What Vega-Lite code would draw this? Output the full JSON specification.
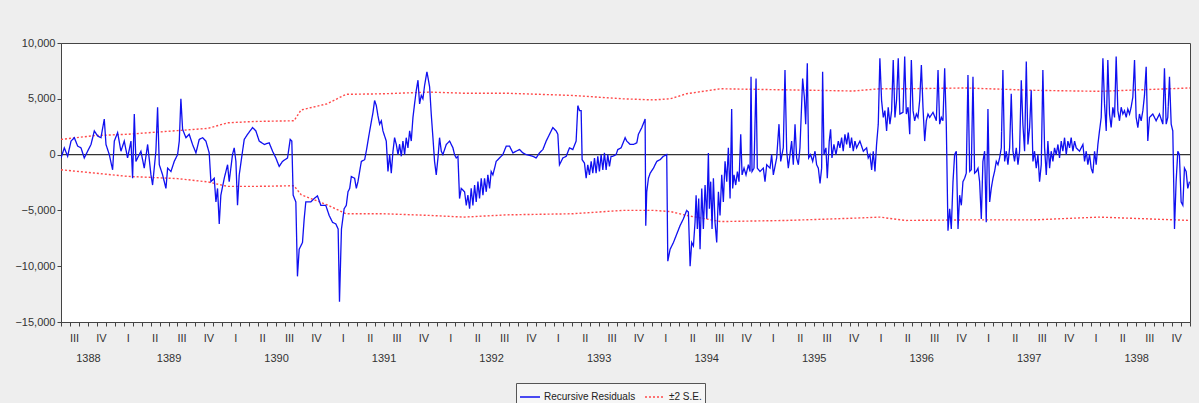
{
"$schema":"https://vega.github.io/schema/vega-lite/v6.json",
"width":1129,"height":279,
"autosize":"none",
"padding":{"left":61,"top":43,"right":9,"bottom":81},
"background":"#eeeeee",
"config":{"view":{"fill":"white","stroke":"#444","strokeWidth":1},"font":"Liberation Sans","axis":{"grid":false,"labelFont":"Liberation Sans","labelFontSize":11,"labelColor":"#333","domainColor":"#444","tickColor":"#444"}},
"datasets":{
"res":[
{"t":0.00,"v":-303},{"t":0.37,"v":606},{"t":0.74,"v":-152},{"t":1.12,"v":1212},{"t":1.49,"v":1515},{"t":1.86,"v":758},{"t":2.23,"v":606},{"t":2.60,"v":-303},{"t":2.97,"v":303},{"t":3.35,"v":909},{"t":3.72,"v":2121},{"t":4.09,"v":1667},{"t":4.46,"v":1515},{"t":4.83,"v":3182},{"t":5.02,"v":909},{"t":5.39,"v":0},{"t":5.76,"v":-1364},{"t":5.95,"v":1212},{"t":6.32,"v":1970},{"t":6.69,"v":303},{"t":7.06,"v":1212},{"t":7.43,"v":-303},{"t":7.81,"v":1212},{"t":7.99,"v":-2121},{"t":8.18,"v":3636},{"t":8.36,"v":-606},{"t":8.92,"v":303},{"t":9.29,"v":-1212},{"t":9.67,"v":909},{"t":10.04,"v":-1818},{"t":10.22,"v":-2727},{"t":10.59,"v":303},{"t":10.78,"v":4242},{"t":10.97,"v":-909},{"t":11.34,"v":-1818},{"t":11.71,"v":-3030},{"t":11.90,"v":-1212},{"t":12.27,"v":-1515},{"t":12.64,"v":-606},{"t":13.01,"v":0},{"t":13.20,"v":1212},{"t":13.38,"v":5000},{"t":13.57,"v":2273},{"t":13.94,"v":1515},{"t":14.31,"v":1818},{"t":14.68,"v":909},{"t":15.06,"v":152},{"t":15.43,"v":1364},{"t":15.80,"v":1515},{"t":16.17,"v":1212},{"t":16.54,"v":152},{"t":16.73,"v":-2424},{"t":17.10,"v":-2121},{"t":17.29,"v":-4242},{"t":17.47,"v":-3030},{"t":17.66,"v":-6212},{"t":17.84,"v":-3636},{"t":18.22,"v":-2121},{"t":18.59,"v":-909},{"t":18.77,"v":-2424},{"t":19.14,"v":0},{"t":19.33,"v":606},{"t":19.52,"v":-606},{"t":19.70,"v":-4545},{"t":19.89,"v":-1818},{"t":20.26,"v":303},{"t":20.45,"v":1364},{"t":20.82,"v":1818},{"t":21.38,"v":2424},{"t":21.75,"v":2121},{"t":22.12,"v":1212},{"t":22.68,"v":909},{"t":23.23,"v":1061},{"t":23.61,"v":303},{"t":23.98,"v":-303},{"t":24.35,"v":-1061},{"t":24.72,"v":-606},{"t":25.28,"v":-303},{"t":25.58,"v":1364},{"t":25.76,"v":1212},{"t":25.91,"v":-3636},{"t":26.21,"v":-4242},{"t":26.39,"v":-10909},{"t":26.58,"v":-8485},{"t":26.95,"v":-7879},{"t":27.14,"v":-5758},{"t":27.32,"v":-4242},{"t":27.51,"v":-4242},{"t":27.88,"v":-4242},{"t":28.25,"v":-3939},{"t":28.62,"v":-3697},{"t":29.00,"v":-4545},{"t":29.55,"v":-4545},{"t":29.93,"v":-5455},{"t":30.30,"v":-6061},{"t":30.67,"v":-6212},{"t":30.93,"v":-6667},{"t":31.08,"v":-13182},{"t":31.30,"v":-6667},{"t":31.60,"v":-4848},
{"t":31.84,"v":-4545},{"t":32.03,"v":-3333},{"t":32.22,"v":-3030},{"t":32.40,"v":-1970},{"t":32.77,"v":-2121},{"t":32.96,"v":-3030},{"t":33.14,"v":-2424},{"t":33.52,"v":-606},{"t":33.89,"v":-455},{"t":34.07,"v":303},{"t":34.45,"v":2121},{"t":34.82,"v":3788},{"t":35.00,"v":4848},{"t":35.19,"v":4394},{"t":35.37,"v":3485},{"t":35.56,"v":2727},{"t":35.75,"v":3030},{"t":35.93,"v":2121},{"t":36.30,"v":1212},{"t":36.49,"v":-1515},{"t":36.68,"v":0},{"t":36.86,"v":-1667},{"t":37.05,"v":303},{"t":37.23,"v":1515},{"t":37.42,"v":909},{"t":37.61,"v":0},{"t":37.79,"v":909},{"t":37.98,"v":-152},{"t":38.16,"v":1212},{"t":38.35,"v":0},{"t":38.53,"v":1515},{"t":38.72,"v":606},{"t":38.91,"v":2121},{"t":39.09,"v":1212},{"t":39.28,"v":3333},{"t":39.46,"v":4545},{"t":39.65,"v":5758},{"t":39.84,"v":6667},{"t":40.02,"v":4545},{"t":40.21,"v":5303},{"t":40.39,"v":5000},{"t":40.58,"v":6212},{"t":40.84,"v":7424},{"t":41.14,"v":6061},{"t":41.32,"v":3636},{"t":41.51,"v":1515},{"t":41.69,"v":-606},{"t":41.88,"v":-1818},{"t":42.07,"v":-303},{"t":42.25,"v":1515},{"t":42.44,"v":303},{"t":42.62,"v":0},{"t":43.00,"v":909},{"t":43.37,"v":1212},{"t":43.74,"v":606},{"t":43.92,"v":0},{"t":44.11,"v":-303},{"t":44.30,"v":-152},{"t":44.48,"v":-3939},{"t":44.67,"v":-3030},{"t":45.04,"v":-3333},{"t":45.23,"v":-4545},{"t":45.41,"v":-3636},{"t":45.60,"v":-4848},{"t":45.78,"v":-3030},{"t":45.97,"v":-4545},{"t":46.16,"v":-2727},{"t":46.34,"v":-4242},{"t":46.53,"v":-2424},{"t":46.71,"v":-3939},{"t":46.90,"v":-2121},{"t":47.09,"v":-3636},{"t":47.27,"v":-2121},{"t":47.46,"v":-3333},{"t":47.64,"v":-1818},{"t":47.83,"v":-3030},{"t":48.01,"v":-1515},{"t":48.20,"v":-1818},{"t":48.39,"v":-1212},{"t":48.57,"v":-606},{"t":48.94,"v":-303},{"t":49.31,"v":0},{"t":49.69,"v":758},{"t":50.06,"v":758},{"t":50.43,"v":152},{"t":50.80,"v":303},{"t":51.17,"v":455},{"t":51.55,"v":152},{"t":51.92,"v":0},{"t":52.29,"v":-61},{"t":52.66,"v":-152},{"t":53.03,"v":-303},{"t":53.40,"v":152},{"t":53.78,"v":455},{"t":54.15,"v":1212},{"t":54.52,"v":1818},{"t":54.89,"v":2424},{"t":55.26,"v":2121},{"t":55.45,"v":1818},{"t":55.63,"v":-909},{"t":56.01,"v":-303},{"t":56.38,"v":-152},{"t":56.75,"v":606},{"t":57.12,"v":455},{"t":57.49,"v":1212},{"t":57.68,"v":4394},{"t":57.87,"v":3939},{"t":58.05,"v":3939},{"t":58.16,"v":-455},{"t":58.42,"v":-758},{"t":58.61,"v":-2121},{"t":58.79,"v":-909},{"t":58.98,"v":-1818},{"t":59.17,"v":-606},{"t":59.35,"v":-1667},{"t":59.54,"v":-303},{"t":59.72,"v":-1667},{"t":59.91,"v":-152},{"t":60.09,"v":-1515},{"t":60.28,"v":0},{"t":60.47,"v":-1364},{"t":60.65,"v":152},{"t":60.84,"v":-1364},{"t":61.02,"v":0},{"t":61.21,"v":-1061},{"t":61.39,"v":-152},{"t":61.58,"v":-152},{"t":61.95,"v":0},{"t":62.14,"v":455},{"t":62.51,"v":606},
{"t":62.96,"v":1515},{"t":63.14,"v":1212},{"t":63.52,"v":909},{"t":63.89,"v":909},{"t":64.26,"v":1061},{"t":64.44,"v":1818},{"t":64.82,"v":2424},{"t":65.19,"v":3182},{"t":65.26,"v":-6364},{"t":65.37,"v":-3333},{"t":65.56,"v":-2121},{"t":65.75,"v":-1667},{"t":66.12,"v":-1212},{"t":66.49,"v":-606},{"t":66.86,"v":-455},{"t":67.23,"v":-152},{"t":67.60,"v":0},{"t":67.72,"v":-9545},{"t":67.98,"v":-8485},{"t":68.35,"v":-7879},{"t":68.72,"v":-7121},{"t":69.09,"v":-6364},{"t":69.46,"v":-5758},{"t":69.83,"v":-5000},{"t":70.02,"v":-5152},{"t":70.21,"v":-10000},{"t":70.39,"v":-7879},{"t":70.58,"v":-8182},{"t":70.76,"v":-6061},{"t":70.88,"v":-3636},{"t":71.02,"v":-6667},{"t":71.17,"v":-3939},{"t":71.32,"v":-8485},{"t":71.51,"v":-3030},{"t":71.69,"v":-6667},{"t":71.88,"v":-2727},{"t":72.07,"v":-5758},{"t":72.25,"v":152},{"t":72.36,"v":-4848},{"t":72.51,"v":-2424},{"t":72.66,"v":-6667},{"t":72.81,"v":-2121},{"t":72.99,"v":-6061},{"t":73.18,"v":-7879},{"t":73.37,"v":-3333},{"t":73.55,"v":-5455},{"t":73.74,"v":-1818},{"t":73.92,"v":-4242},{"t":74.11,"v":-606},{"t":74.30,"v":-2424},{"t":74.48,"v":606},{"t":74.67,"v":-3939},{"t":74.85,"v":4091},{"t":74.96,"v":-3030},{"t":75.11,"v":-1818},{"t":75.30,"v":-2727},{"t":75.49,"v":-1515},{"t":75.67,"v":-2424},{"t":75.86,"v":1818},{"t":76.01,"v":-1818},{"t":76.23,"v":-1212},{"t":76.45,"v":-1818},{"t":76.71,"v":-909},{"t":76.90,"v":-1515},{"t":77.01,"v":6970},{"t":77.12,"v":-1515},{"t":77.34,"v":-1212},{"t":77.57,"v":6818},{"t":77.71,"v":-1212},{"t":78.01,"v":-1515},{"t":78.38,"v":-1212},{"t":78.57,"v":-2424},{"t":78.76,"v":-909},{"t":79.13,"v":-1212},{"t":79.31,"v":0},{"t":79.50,"v":-1818},{"t":79.87,"v":-303},{"t":80.13,"v":2727},{"t":80.32,"v":-606},{"t":80.61,"v":606},{"t":80.80,"v":7576},{"t":80.99,"v":303},{"t":81.17,"v":-1212},{"t":81.36,"v":0},{"t":81.54,"v":1212},{"t":81.73,"v":-909},{"t":81.92,"v":2727},{"t":82.10,"v":-303},{"t":82.29,"v":-909},{"t":82.47,"v":606},{"t":82.77,"v":6818},{"t":82.96,"v":5152},{"t":83.11,"v":2727},{"t":83.29,"v":8182},{"t":83.44,"v":-303},{"t":83.66,"v":0},{"t":83.89,"v":-606},{"t":84.15,"v":303},{"t":84.33,"v":-909},{"t":84.52,"v":-1212},{"t":84.71,"v":-2576},{"t":84.89,"v":-1212},{"t":85.00,"v":7424},{"t":85.15,"v":0},{"t":85.37,"v":606},{"t":85.52,"v":-2121},{"t":85.74,"v":1212},{"t":85.89,"v":2273},{"t":86.04,"v":-303},{"t":86.26,"v":909},{"t":86.49,"v":0},{"t":86.75,"v":1212},{"t":86.93,"v":606},{"t":87.12,"v":1515},{"t":87.30,"v":303},{"t":87.49,"v":1818},{"t":87.68,"v":909},{"t":87.86,"v":1970},{"t":88.05,"v":606},{"t":88.23,"v":1515},{"t":88.42,"v":303},{"t":88.61,"v":1212},{"t":88.79,"v":606},{"t":89.16,"v":1212},{"t":89.54,"v":303},{"t":89.91,"v":606},{"t":90.09,"v":-303},{"t":90.28,"v":0},{"t":90.47,"v":-1364},{"t":90.65,"v":303},{"t":90.84,"v":-1515},{"t":91.02,"v":909},{"t":91.21,"v":2727},{"t":91.39,"v":8636},{"t":91.58,"v":4848},{"t":91.77,"v":3333},{"t":91.95,"v":3939},{"t":92.14,"v":2121},{"t":92.32,"v":4242},{"t":92.51,"v":2727},{"t":92.70,"v":3939},{"t":92.88,"v":8485},{"t":93.07,"v":3333},{"t":93.25,"v":4848},{"t":93.44,"v":8636},{"t":93.62,"v":3636},
{"t":93.97,"v":3788},{"t":94.16,"v":8788},{"t":94.34,"v":3636},{"t":94.53,"v":4242},{"t":94.72,"v":1818},{"t":94.90,"v":8485},{"t":95.09,"v":3939},{"t":95.27,"v":3030},{"t":95.46,"v":3636},{"t":95.64,"v":3333},{"t":95.83,"v":4848},{"t":96.02,"v":8030},{"t":96.20,"v":4242},{"t":96.39,"v":1212},{"t":96.57,"v":3030},{"t":96.76,"v":3636},{"t":96.95,"v":3333},{"t":97.32,"v":3788},{"t":97.69,"v":3030},{"t":97.88,"v":7576},{"t":98.06,"v":2727},{"t":98.25,"v":3333},{"t":98.43,"v":3030},{"t":98.62,"v":7727},{"t":98.80,"v":2727},{"t":98.99,"v":-6818},{"t":99.18,"v":-4848},{"t":99.36,"v":-6667},{"t":99.55,"v":-2424},{"t":99.73,"v":0},{"t":99.92,"v":303},{"t":100.11,"v":-6667},{"t":100.29,"v":-3636},{"t":100.48,"v":-4545},{"t":100.66,"v":-2424},{"t":100.85,"v":-2121},{"t":101.03,"v":-1667},{"t":101.22,"v":7121},{"t":101.41,"v":-1515},{"t":101.59,"v":-1364},{"t":101.78,"v":6970},{"t":101.96,"v":-1667},{"t":102.15,"v":-1515},{"t":102.34,"v":-1212},{"t":102.52,"v":-2424},{"t":102.71,"v":-5758},{"t":102.89,"v":-606},{"t":103.08,"v":303},{"t":103.26,"v":-6061},{"t":103.45,"v":4091},{"t":103.64,"v":-4242},{"t":103.82,"v":-3030},{"t":104.01,"v":-2121},{"t":104.19,"v":-1515},{"t":104.38,"v":-606},{"t":104.57,"v":-909},{"t":104.75,"v":-303},{"t":104.94,"v":606},{"t":105.12,"v":7576},{"t":105.31,"v":-606},{"t":105.50,"v":303},{"t":105.68,"v":-909},{"t":105.87,"v":606},{"t":106.05,"v":5455},{"t":106.24,"v":303},{"t":106.42,"v":-606},{"t":106.61,"v":606},{"t":106.80,"v":-909},{"t":106.98,"v":303},{"t":107.17,"v":6667},{"t":107.35,"v":2727},{"t":107.54,"v":303},{"t":107.73,"v":8333},{"t":107.91,"v":909},{"t":108.10,"v":2424},{"t":108.28,"v":5758},{"t":108.47,"v":-606},{"t":108.65,"v":303},{"t":108.84,"v":-1212},{"t":109.03,"v":0},{"t":109.21,"v":-2424},{"t":109.40,"v":-909},{"t":109.58,"v":7576},{"t":109.77,"v":606},{"t":109.96,"v":-1818},{"t":110.14,"v":1212},{"t":110.33,"v":-1212},{"t":110.51,"v":303},{"t":110.70,"v":-606},{"t":110.88,"v":606},{"t":111.07,"v":0},{"t":111.26,"v":909},{"t":111.44,"v":-303},{"t":111.63,"v":1212},{"t":111.81,"v":303},{"t":112.00,"v":1515},{"t":112.19,"v":0},{"t":112.37,"v":1212},{"t":112.56,"v":606},{"t":112.74,"v":1515},{"t":112.93,"v":303},{"t":113.12,"v":1212},{"t":113.30,"v":606},{"t":113.67,"v":303},{"t":114.05,"v":909},{"t":114.23,"v":-606},{"t":114.42,"v":303},{"t":114.60,"v":-909},{"t":114.79,"v":0},{"t":114.97,"v":-1212},{"t":115.16,"v":-1667},{"t":115.35,"v":303},{"t":115.53,"v":-909},{"t":115.72,"v":909},{"t":115.90,"v":2121},{"t":116.09,"v":3333},{"t":116.28,"v":8636},{"t":116.46,"v":4545},{"t":116.65,"v":2121},{"t":116.83,"v":8485},{"t":117.02,"v":3636},{"t":117.20,"v":2424},{"t":117.39,"v":4242},{"t":117.58,"v":3333},{"t":117.76,"v":8788},{"t":117.95,"v":3939},{"t":118.13,"v":3030},{"t":118.32,"v":4242},{"t":118.51,"v":3636},{"t":118.69,"v":3939},{"t":118.88,"v":3333},{"t":119.06,"v":4091},{"t":119.25,"v":3636},{"t":119.43,"v":4242},{"t":119.62,"v":5152},{"t":119.81,"v":8485},{"t":119.99,"v":3333},{"t":120.18,"v":2424},{"t":120.36,"v":3636},{"t":120.55,"v":3030},{"t":120.74,"v":3939},{"t":120.92,"v":5303},{"t":121.11,"v":7879},{"t":121.29,"v":1212},{"t":121.48,"v":3333},{"t":121.85,"v":3636},{"t":122.22,"v":3030},{"t":122.59,"v":3636},{"t":122.97,"v":2727},{"t":123.15,"v":7727},{"t":123.34,"v":2727},{"t":123.52,"v":3333},{"t":123.71,"v":6970},{"t":123.90,"v":2727},{"t":124.08,"v":2121},{"t":124.27,"v":-6667},{"t":124.45,"v":-2424},{"t":124.64,"v":303},{"t":124.82,"v":0},{"t":125.01,"v":-4242},{"t":125.20,"v":-4545},{"t":125.38,"v":-1212},{"t":125.57,"v":-1515},{"t":125.75,"v":-3030},{"t":125.94,"v":-2424}
],
"se":[
{"t":0,"u":1360,"l":-1360},{"t":3.7,"u":1700,"l":-1650},{"t":7.4,"u":1820,"l":-1950},{"t":13.0,"u":2150,"l":-2150},{"t":16.4,"u":2350,"l":-2450},{"t":18.6,"u":2850,"l":-2850},{"t":21.6,"u":2970,"l":-2850},{"t":26.0,"u":3030,"l":-2790},{"t":26.8,"u":4000,"l":-3600},{"t":29.7,"u":4550,"l":-4500},{"t":31.8,"u":5400,"l":-5300},{"t":36,"u":5450,"l":-5300},{"t":41.1,"u":5600,"l":-5450},{"t":45,"u":5500,"l":-5600},{"t":49.7,"u":5500,"l":-5400},{"t":57.1,"u":5300,"l":-5300},{"t":62.7,"u":5000,"l":-5000},{"t":66.1,"u":4900,"l":-5000},{"t":68.0,"u":5000,"l":-5100},{"t":69.8,"u":5450,"l":-5450},{"t":73.6,"u":5900,"l":-6000},{"t":81.0,"u":5800,"l":-5900},{"t":88.4,"u":5700,"l":-5700},{"t":91.4,"u":5900,"l":-5600},{"t":94.2,"u":5900,"l":-5900},{"t":101.0,"u":5970,"l":-5850},{"t":108.5,"u":5760,"l":-5850},{"t":115.9,"u":5670,"l":-5600},{"t":126,"u":5970,"l":-5900}
]
},
"resolve":{"axis":{"x":"independent"}},
"layer":[
{"data":{"values":[{"z":0}]},"mark":{"type":"rule","color":"#333","strokeWidth":1.3},"encoding":{"y":{"field":"z","type":"quantitative","axis":{"title":null,"labelExpr":"format(datum.value, ',')"}}}},
{"data":{"name":"se"},"mark":{"type":"line","strokeWidth":1.4,"clip":true},
 "encoding":{"x":{"field":"t","type":"quantitative","axis":null},"y":{"field":"u","type":"quantitative","axis":{"title":null,"labelExpr":"format(datum.value, ',')"}},
 "color":{"datum":"±2 S.E."},"strokeDash":{"datum":"±2 S.E."}}},
{"data":{"name":"se"},"mark":{"type":"line","strokeWidth":1.4,"clip":true},
 "encoding":{"x":{"field":"t","type":"quantitative","axis":null},"y":{"field":"l","type":"quantitative","axis":{"title":null,"labelExpr":"format(datum.value, ',')"}},
 "color":{"datum":"±2 S.E."},"strokeDash":{"datum":"±2 S.E."}}},
{"data":{"name":"res"},"mark":{"type":"line","strokeWidth":1.3,"clip":true},
 "encoding":{
  "x":{"field":"t","type":"quantitative","scale":{"domain":[0,126],"nice":false,"zero":false},
   "axis":{"title":null,"orient":"bottom","tickCount":126,"tickSize":4,"labelPadding":6,"labelOffset":13,"labelOverlap":false,"labelFlush":false,"labelBound":false,
    "labelExpr":"(datum.value % 3 == 0 && datum.value < 126) ? ['III','IV','I','II'][(datum.value/3) % 4] : ''"}},
  "y":{"field":"v","type":"quantitative","scale":{"domain":[-15000,10000],"nice":false},
   "axis":{"title":null,"values":[-15000,-10000,-5000,0,5000,10000],"labelExpr":"format(datum.value, ',')","tickSize":4,"labelPadding":2}},
  "color":{"datum":"Recursive Residuals","scale":{"domain":["Recursive Residuals","±2 S.E."],"range":["#1010f0","#ff4a4a"]},
   "legend":{"title":null,"orient":"none","legendX":455,"legendY":340,"direction":"horizontal","strokeColor":"#555","fillColor":"#f6f6f6","padding":3,"symbolType":"stroke","symbolSize":400,"symbolStrokeWidth":1.4,"labelFontSize":10,"labelColor":"#222","columnPadding":6,"labelOffset":3}},
  "strokeDash":{"datum":"Recursive Residuals","scale":{"domain":["Recursive Residuals","±2 S.E."],"range":[[1,0],[2,2]]},
   "legend":{"title":null,"orient":"none","legendX":455,"legendY":340,"direction":"horizontal","strokeColor":"#555","fillColor":"#f6f6f6","padding":3,"symbolType":"stroke","symbolSize":400,"symbolStrokeWidth":1.4,"labelFontSize":10,"labelColor":"#222","columnPadding":6,"labelOffset":3}}
 }},
{"data":{"name":"se"},"mark":{"type":"point","opacity":0},
 "encoding":{"x":{"field":"t","type":"quantitative",
   "axis":{"title":null,"orient":"bottom","values":[3,12,24,36,48,60,72,84,96,108,120],"domain":false,"ticks":false,"labelPadding":30,"labelFlush":false,"labelBound":false,"labelOverlap":false,
    "labelExpr":"'' + (datum.value == 3 ? 1388 : 1388 + datum.value/12)"}},
  "y":{"field":"u","type":"quantitative","axis":{"title":null,"labelExpr":"format(datum.value, ',')"}}}}
]
}
